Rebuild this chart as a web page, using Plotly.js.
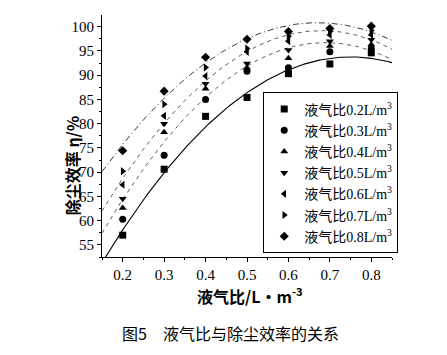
<!DOCTYPE html>
<html>
<head>
<meta charset="utf-8">
<script src="https://cdn.plot.ly/plotly-3.0.1.min.js"></script>
<style>
html,body{margin:0;padding:0;background:#fff;}
#chart{width:447px;height:355px;}
</style>
</head>
<body>
<div id="chart"></div>
<script>
// Liquid-gas ratio (x axis)
const xRatio = [0.2, 0.3, 0.4, 0.5, 0.6, 0.7, 0.8];
// Dust removal efficiency (%) for each series
const eff02 = [57.0, 70.6, 81.5, 85.4, 90.3, 92.3, 94.6];
const eff03 = [60.3, 73.5, 85.0, 90.8, 91.5, 94.8, 95.5];
const eff04 = [62.6, 78.2, 87.2, 91.5, 93.5, 96.0, 96.3];
const eff05 = [64.5, 80.0, 88.2, 92.4, 95.2, 97.0, 97.3];
const eff06 = [67.4, 81.6, 89.8, 94.8, 97.0, 98.3, 98.3];
const eff07 = [70.2, 84.0, 91.6, 95.5, 98.0, 99.0, 99.2];
const eff08 = [74.4, 86.7, 93.7, 97.4, 99.0, 99.6, 100.1];
const seriesNames = ['液气比0.2L/m<sup>3</sup>','液气比0.3L/m<sup>3</sup>','液气比0.4L/m<sup>3</sup>','液气比0.5L/m<sup>3</sup>','液气比0.6L/m<sup>3</sup>','液气比0.7L/m<sup>3</sup>','液气比0.8L/m<sup>3</sup>'];
const seriesData = [eff02, eff03, eff04, eff05, eff06, eff07, eff08];
const symbols = ['square','circle','triangle-up','triangle-down','triangle-left','triangle-right','diamond'];
const xTickVals = [0.2, 0.3, 0.4, 0.5, 0.6, 0.7, 0.8];
const xTickText = ['0.2','0.3','0.4','0.5','0.6','0.7','0.8'];
const yTickVals = [55, 60, 65, 70, 75, 80, 85, 90, 95, 100];

// quadratic least-squares fit
function polyfit2(xs, ys){
  let S=[0,0,0,0,0], T=[0,0,0];
  for(let i=0;i<xs.length;i++){
    const x=xs[i], y=ys[i];
    for(let k=0;k<5;k++) S[k]+=Math.pow(x,k);
    for(let k=0;k<3;k++) T[k]+=y*Math.pow(x,k);
  }
  const A=[[S[0],S[1],S[2],T[0]],[S[1],S[2],S[3],T[1]],[S[2],S[3],S[4],T[2]]];
  for(let i=0;i<3;i++){
    for(let j=i+1;j<3;j++){
      const f=A[j][i]/A[i][i];
      for(let k=i;k<4;k++) A[j][k]-=f*A[i][k];
    }
  }
  const c=[0,0,0];
  for(let i=2;i>=0;i--){
    let s=A[i][3];
    for(let k=i+1;k<3;k++) s-=A[i][k]*c[k];
    c[i]=s/A[i][i];
  }
  return c;
}
function fitCurve(ys, dash, width, color){
  const c=polyfit2(xRatio, ys);
  const fx=[], fy=[];
  for(let x=0.15; x<=0.8501; x+=0.005){ fx.push(x); fy.push(c[0]+c[1]*x+c[2]*x*x); }
  return {x:fx, y:fy, mode:'lines', showlegend:false, hoverinfo:'skip',
          line:{color:color, width:width, dash:dash}};
}

const traces = [];
traces.push(fitCurve(eff02, 'solid', 1.1, '#000'));
traces.push(fitCurve(eff04, '4px,4px', 0.8, '#333'));
traces.push(fitCurve(eff06, '4px,4px', 0.8, '#333'));
traces.push(fitCurve(eff08, '6px,3px,1px,3px', 0.9, '#222'));
for(let i=0;i<seriesData.length;i++){
  traces.push({x:xRatio, y:seriesData[i], name:seriesNames[i], mode:'markers', type:'scatter',
    marker:{symbol:symbols[i], size:7, color:'#000'}});
}

const tickFont = {family:'Liberation Serif, Times New Roman, serif', size:15, color:'#000'};
const layout = {
  width:447, height:355,
  margin:{l:102, r:55, t:15, b:98},
  paper_bgcolor:'#fff', plot_bgcolor:'#fff',
  showlegend:true,
  legend:{x:0.556, y:0.68, xanchor:'left', yanchor:'top',
    bordercolor:'#000', borderwidth:1, bgcolor:'#fff',
    font:{family:'Liberation Serif, Noto Sans CJK SC, serif', size:14, color:'#000'},
    tracegroupgap:0, itemwidth:20},
  xaxis:{range:[0.15,0.85], tickvals:xTickVals, ticktext:xTickText,
    showgrid:false, zeroline:false, showline:true, linecolor:'#000', linewidth:1,
    ticks:'outside', ticklen:4, tickcolor:'#000', tickfont:tickFont,
    minor:{dtick:0.05, tick0:0.15, ticks:'outside', ticklen:2, tickcolor:'#000'}},
  yaxis:{range:[52.5,102.4], tickvals:yTickVals,
    showgrid:false, zeroline:false, showline:true, linecolor:'#000', linewidth:1,
    ticks:'outside', ticklen:4, tickcolor:'#000', tickfont:tickFont,
    minor:{dtick:2.5, tick0:52.5, ticks:'outside', ticklen:2, tickcolor:'#000'}},
  annotations:[
    {text:'<b>液气比/L·m<sup>-3</sup></b>', xref:'paper', yref:'paper', x:0.51, y:-0.158,
      xanchor:'center', yanchor:'middle', showarrow:false,
      font:{family:'Noto Sans CJK SC, sans-serif', size:16, color:'#000'}},
    {text:'<b>除尘效率 η/%</b>', xref:'paper', yref:'paper', x:-0.103, y:0.376, textangle:-90,
      xanchor:'center', yanchor:'middle', showarrow:false,
      font:{family:'Noto Sans CJK SC, sans-serif', size:16, color:'#000'}},
    {text:'图5　液气比与除尘效率的关系', xref:'paper', yref:'paper', x:0.062, y:-0.314,
      xanchor:'left', yanchor:'middle', showarrow:false,
      font:{family:'Noto Sans CJK SC, serif', size:16, color:'#000'}}
  ]
};
Plotly.newPlot('chart', traces, layout, {displayModeBar:false, staticPlot:true});
</script>
</body>
</html>
